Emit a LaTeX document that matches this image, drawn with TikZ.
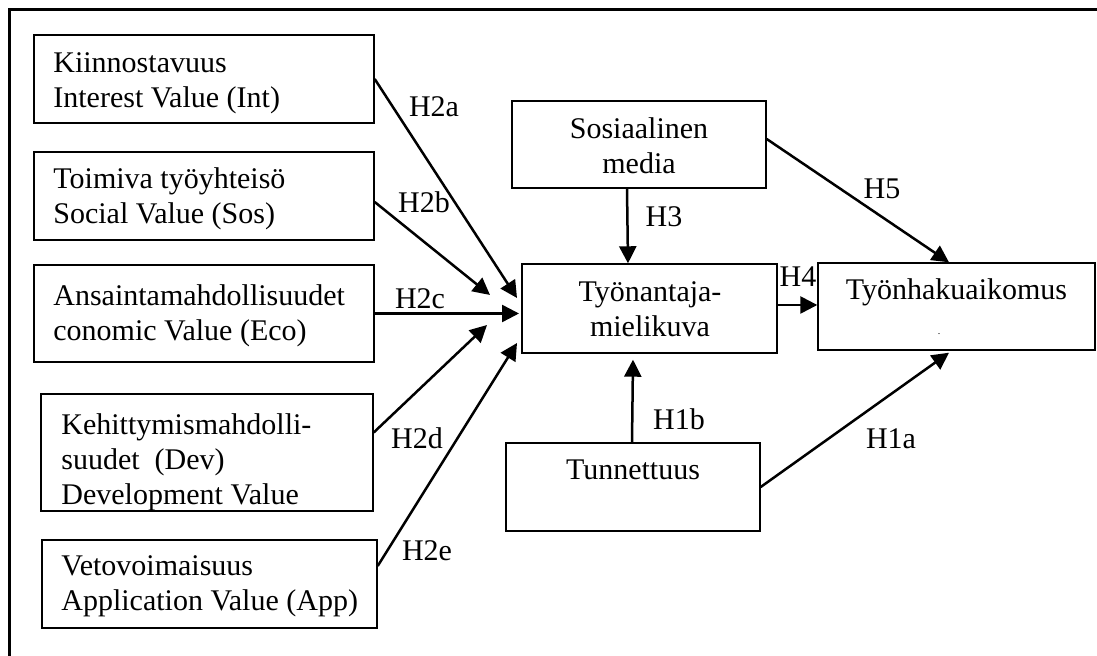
\documentclass[tikz,border=0pt]{standalone}
\usepackage{fontspec}
\setmainfont{Liberation Serif}
\usetikzlibrary{arrows.meta}
\begin{document}
\begin{tikzpicture}[x=0.5pt,y=-0.5pt,
  box/.style={draw, line width=0.7pt, inner sep=0pt},
  txt/.style={font=\fontsize{15pt}{17.5pt}\selectfont, inner sep=0pt},
  lab/.style={font=\fontsize{15pt}{17.5pt}\selectfont, inner sep=0pt},
  arr/.style={line width=1.25pt, -{Triangle[length=8.5pt,width=8.5pt]}}]
\useasboundingbox (0,0) rectangle (1097,656);
% outer frame (left and top only)
\draw[line width=1.5pt] (9,660) -- (9,10) -- (1100,10);

% left boxes
\node[box, minimum width=170pt, minimum height=44pt] (int) at (204,79) {};
\node[txt, anchor=west, align=left] (tint) at (53,83) {Kiinnostavuus\\Interest Value (Int)};
\node[box, minimum width=170pt, minimum height=44pt] (soc) at (204,196) {};
\node[txt, anchor=west, align=left] (tsoc) at (53,199) {Toimiva työyhteisö\\Social Value (Sos)};
\node[box, minimum width=170pt, minimum height=48.5pt] (eco) at (204,313.5) {};
\node[txt, anchor=west, align=left] (teco) at (53,316) {Ansaintamahdollisuudet\\conomic Value (Eco)};
\node[box, minimum width=166pt, minimum height=58.5pt] (dev) at (207,452.5) {};
\node[txt, anchor=west, align=left] (tdev) at (61,462) {Kehittymismahdolli-\\suudet\ \ (Dev)\\Development Value};
\node[box, minimum width=167.5pt, minimum height=44pt] (app) at (209.5,584) {};
\node[txt, anchor=west, align=left] (tapp) at (61,586) {Vetovoimaisuus\\Application Value (App)};

% centre boxes
\node[box, minimum width=127pt, minimum height=43.5pt] (med) at (639,144.5) {};
\node[txt, align=center] (tmed) at (639,145.5) {Sosiaalinen\\media};
\node[box, minimum width=127.5pt, minimum height=44.5pt] (emp) at (649.5,308.5) {};
\node[txt, align=center] (temp) at (650,309.5) {Työnantaja-\\mielikuva};
\node[box, minimum width=138.5pt, minimum height=43.5pt] (aik) at (956.5,306.5) {};
\node[txt, anchor=base] (taik) at (956.5,300) {Työnhakuaikomus};
\node[font=\tiny, inner sep=0pt] (dot) at (939,334) {.};
\node[box, minimum width=127pt, minimum height=44pt] (tun) at (633,487) {};
\node[txt, anchor=base] (ttun) at (633,480) {Tunnettuus};

% arrow end points
\coordinate (e2a) at (517,298);
\coordinate (e2b) at (490,295);
\coordinate (e2c) at (519,313.5);
\coordinate (e2d) at (487,325);
\coordinate (e2e) at (517,343);
\coordinate (h4s) at ([yshift=1.75pt]emp.east);

% connectors
\draw[arr] (int.east) -- (e2a);
\draw[arr] ([yshift=-3pt]soc.east) -- (e2b);
\draw[arr] (eco.east) -- (e2c);
\draw[arr] ([yshift=10pt]dev.east) -- (e2d);
\draw[arr] ([yshift=9pt]app.east) -- (e2e);
\draw[arr] ([xshift=-6pt]med.south) -- ([xshift=-10.75pt]emp.north);
\draw[arr] (h4s) -- (h4s -| aik.west);
\draw[arr] ([yshift=2.75pt]med.east) -- ([xshift=-3.75pt]aik.north);
\draw[arr] ([xshift=-0.5pt]tun.north) -- ([xshift=-8.25pt,yshift=-3pt]emp.south);
\draw[arr] (tun.east) -- ([xshift=-3.75pt,yshift=-1pt]aik.south);

% labels
\node[lab] (l2a) at (434,107) {H2a};
\node[lab] (l2b) at (424,202) {H2b};
\node[lab] (l2c) at (420,299) {H2c};
\node[lab] (l2d) at (417,438) {H2d};
\node[lab] (l2e) at (427,551) {H2e};
\node[lab] (l3) at (664,217) {H3};
\node[lab] (l4) at (798,277) {H4};
\node[lab] (l5) at (882,189) {H5};
\node[lab] (l1b) at (679,419) {H1b};
\node[lab] (l1a) at (891,439) {H1a};
\end{tikzpicture}
\end{document}
